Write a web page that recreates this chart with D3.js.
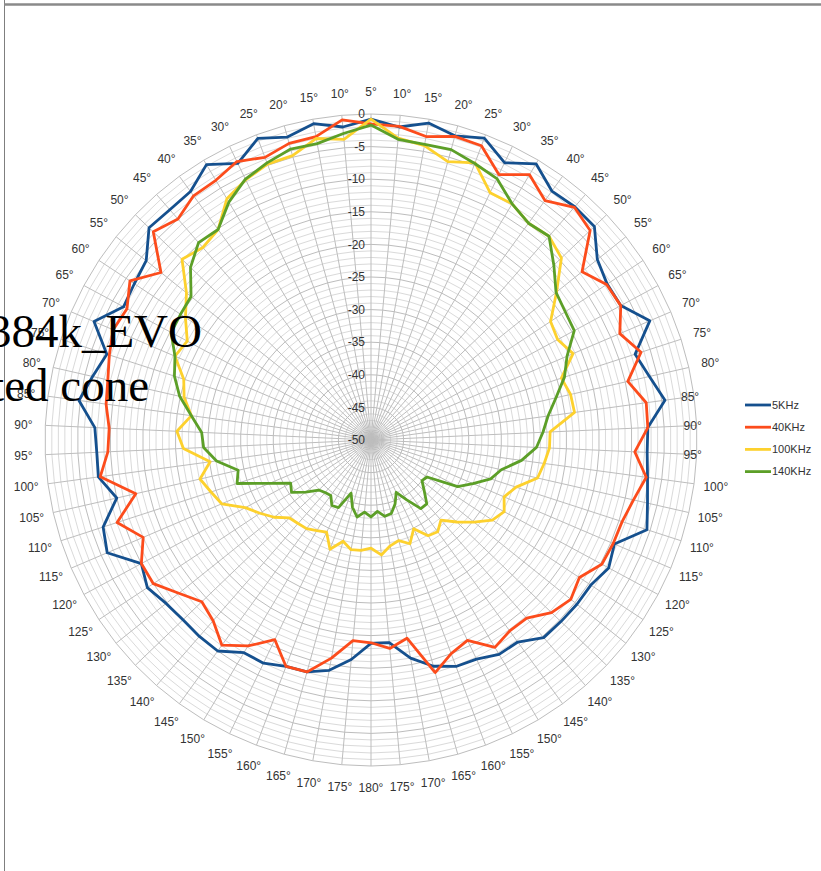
<!DOCTYPE html>
<html>
<head>
<meta charset="utf-8">
<script src="https://cdn.jsdelivr.net/npm/d3@7/dist/d3.min.js"></script>
<style>
    body { margin: 0; background: #fff; }
    svg { display: block; }
</style>
</head>
<body>
<svg id="chart" width="821" height="871"></svg>
<script>
// category labels, clockwise from the top
const angleLabels = ['5°','10°','15°','20°','25°','30°','35°','40°','45°','50°',
    '55°','60°','65°','70°','75°','80°','85°','90°','95°','100°',
    '105°','110°','115°','120°','125°','130°','135°','140°','145°','150°',
    '155°','160°','165°','170°','175°','180°','175°','170°','165°','160°',
    '155°','150°','145°','140°','135°','130°','125°','120°','115°','110°',
    '105°','100°','95°','90°','85°','80°','75°','70°','65°','60°',
    '55°','50°','45°','40°','35°','30°','25°','20°','15°','10°'];

const radialTicks = [0, -5, -10, -15, -20, -25, -30, -35, -40, -45, -50];

const seriesNames = ['5KHz', '40KHz', '100KHz', '140KHz'];

const s5k = [-0.8,-1.8,-0.6,-1.6,-0.55,-2.8,-0.65,-2.8,-2.5,-2.6,
    -5.6,-6.6,-6.5,-3.5,-7.4,-6.2,-4.5,-7.5,-7.6,-7.2,
    -6.5,-5.5,-9.4,-8.6,-9.6,-9.6,-9.7,-9.75,-11.7,-11.7,
    -12.7,-12.9,-14.0,-16.0,-18.8,-18.8,-16.2,-14.1,-13.1,-12.9,
    -12.0,-12.0,-10.0,-10.0,-10.1,-9.8,-8.9,-10.0,-6.0,-6.8,
    -10.0,-7.8,-7.9,-7.6,-4.8,-6.2,-7.4,-3.8,-6.9,-6.5,
    -5.9,-2.9,-3.1,-2.9,-0.8,-2.9,-0.6,-1.8,-0.7,-1.8];

const s40k = [-1.5,-1.7,-2.7,-1.7,-1.8,-4.8,-2.6,-4.6,-2.6,-3.5,
    -8.6,-6.7,-6.5,-8.5,-6.45,-9.6,-7.4,-7.5,-9.5,-7.4,
    -8.7,-9.5,-9.6,-9.8,-11.7,-10.8,-11.7,-13.7,-13.8,-12.95,
    -15.9,-15.0,-13.0,-19.1,-17.9,-18.9,-19.1,-16.0,-13.1,-12.9,
    -16.0,-13.2,-11.1,-13.2,-14.1,-12.3,-10.0,-10.0,-12.0,-9.05,
    -13.0,-8.1,-9.6,-9.8,-9.0,-8.6,-7.8,-7.0,-7.5,-5.7,
    -8.8,-3.8,-5.0,-3.7,-3.6,-2.6,-3.7,-2.8,-2.7,-0.7];

const s100k = [-0.8,-3.5,-4.1,-5.7,-4.6,-7.9,-7.8,-8.9,-8.5,-9.6,
    -13.6,-17.0,-17.5,-16.3,-19.3,-18.6,-18.5,-22.5,-22.6,-23.2,
    -23.8,-26.6,-27.8,-26.8,-27.7,-29.8,-31.8,-33.7,-32.6,-32.9,
    -34.9,-33.0,-34.0,-33.5,-32.3,-33.4,-33.0,-32.9,-33.9,-32.1,
    -34.3,-33.8,-33.2,-33.0,-32.7,-31.0,-29.6,-28.1,-25.1,-24.2,
    -23.1,-25.1,-21.2,-20.2,-22.2,-20.6,-19.8,-17.3,-18.0,-15.9,
    -13.8,-9.9,-10.8,-10.1,-6.9,-5.7,-4.8,-4.75,-3.0,-3.7];

const s140k = [-1.7,-3.7,-3.9,-3.8,-4.7,-5.5,-7.8,-8.9,-8.5,-11.2,
    -13.7,-14.3,-14.6,-17.3,-18.8,-20.9,-22.6,-23.6,-24.6,-26.7,
    -29.5,-30.7,-33.0,-34.9,-39.7,-40.0,-38.7,-37.0,-37.0,-39.3,
    -41.1,-39.5,-38.3,-38.1,-39.0,-38.2,-38.9,-38.0,-39.3,-41.3,
    -38.5,-38.3,-39.5,-39.3,-38.9,-37.2,-35.4,-36.0,-33.1,-28.4,
    -29.1,-26.1,-24.3,-24.0,-22.2,-19.9,-18.3,-17.3,-15.2,-15.0,
    -14.7,-11.7,-9.8,-10.1,-7.5,-5.6,-4.6,-3.7,-3.8,-2.8];

const seriesColors = ['#15508e', '#fc4c1c', '#fdd12e', '#5c9f28'];

const width = 821;
const height = 871;
const cx = 371;
const cy = 440;
const R = 326;
const n = angleLabels.length;
const font = 'Arial, "Liberation Sans", sans-serif';

let svg = d3.select('#chart');

let rScale = d3.scaleLinear().domain([-50, 0]).range([0, R]);
let aScale = d3.scaleLinear().domain([0, n]).range([0, 2 * Math.PI]);

let g = svg.append('g').attr('transform', `translate(${cx},${cy})`);

let ring = (radius) => d3.lineRadial()
    .angle((d, i) => aScale(i))
    .radius(radius)
    .curve(d3.curveLinearClosed)(angleLabels);

// minor rings every 1 dB, major every 5 dB
let minor = d3.range(-49, 0).filter((v) => v % 5 != 0);
g.selectAll('.minor')
    .data(minor)
    .enter()
    .append('path')
    .attr('d', (v) => ring(rScale(v)))
    .attr('fill', 'none')
    .attr('stroke', '#dadada')
    .attr('stroke-width', 1);

g.selectAll('.major')
    .data(radialTicks.slice(0, -1))
    .enter()
    .append('path')
    .attr('d', (v) => ring(rScale(v)))
    .attr('fill', 'none')
    .attr('stroke', '#bdbdbd')
    .attr('stroke-width', 1);

// spokes
g.selectAll('.spoke')
    .data(angleLabels)
    .enter()
    .append('line')
    .attr('x1', 0)
    .attr('y1', 0)
    .attr('x2', (d, i) => R * Math.sin(aScale(i)))
    .attr('y2', (d, i) => -R * Math.cos(aScale(i)))
    .attr('stroke', '#bdbdbd')
    .attr('stroke-width', 1);

// series
let allSeries = [s5k, s40k, s100k, s140k];
let line = d3.lineRadial()
    .angle((d, i) => aScale(i))
    .radius((d) => rScale(d))
    .curve(d3.curveLinearClosed);

allSeries.forEach((s, j) => {
    g.append('path')
        .attr('d', line(s))
        .attr('fill', 'none')
        .attr('stroke', seriesColors[j])
        .attr('stroke-width', 2.8)
        .attr('stroke-linejoin', 'round');
});

// radial tick labels
g.selectAll('.rlabel')
    .data(radialTicks)
    .enter()
    .append('text')
    .attr('x', -6)
    .attr('y', (v) => -rScale(v))
    .attr('dy', '0.35em')
    .attr('text-anchor', 'end')
    .attr('font-family', font)
    .attr('font-size', 12)
    .attr('fill', '#333')
    .text((v) => v);

// angle labels, the ones next to the legend sit closer in
const pulledIn = ['85°', '90°', '95°'];
g.selectAll('.alabel')
    .data(angleLabels)
    .enter()
    .append('text')
    .attr('x', (d, i) => {
        let lr = (i < n / 2 && pulledIn.includes(d)) ? R - 4 : R + 22;
        return lr * Math.sin(aScale(i));
    })
    .attr('y', (d, i) => {
        let lr = (i < n / 2 && pulledIn.includes(d)) ? R - 4 : R + 22;
        return -lr * Math.cos(aScale(i));
    })
    .attr('dy', '0.35em')
    .attr('text-anchor', 'middle')
    .attr('font-family', font)
    .attr('font-size', 12)
    .attr('fill', '#333')
    .text((d) => d);

// legend
let legend = svg.append('g').attr('transform', 'translate(745,405)');
seriesNames.forEach((name, j) => {
    let row = legend.append('g').attr('transform', `translate(0,${j * 22.2})`);
    row.append('line')
        .attr('x1', 0).attr('x2', 26)
        .attr('y1', 0).attr('y2', 0)
        .attr('stroke', seriesColors[j])
        .attr('stroke-width', 2.8);
    row.append('text')
        .attr('x', 27)
        .attr('dy', '0.35em')
        .attr('font-family', font)
        .attr('font-size', 11)
        .attr('fill', '#333')
        .text(name);
});

// page frame
svg.append('line')
    .attr('x1', 4.5).attr('x2', 4.5)
    .attr('y1', 0).attr('y2', height)
    .attr('stroke', '#7f7f7f')
    .attr('stroke-width', 1);
svg.append('line')
    .attr('x1', 4).attr('x2', width)
    .attr('y1', 4.5).attr('y2', 4.5)
    .attr('stroke', '#8a8a8a')
    .attr('stroke-width', 2.5);

// overlaid title text, cut by the left edge
const titleLines = ['384k_EVO', 'ted cone'];
svg.selectAll('.title')
    .data(titleLines)
    .enter()
    .append('text')
    .attr('x', (d, i) => i == 0 ? 202 : 149)
    .attr('y', (d, i) => 347 + i * 54)
    .attr('text-anchor', 'end')
    .attr('font-family', '"Liberation Serif", "Times New Roman", serif')
    .attr('font-size', 47)
    .attr('fill', '#000')
    .text((d) => d);
</script>
</body>
</html>
